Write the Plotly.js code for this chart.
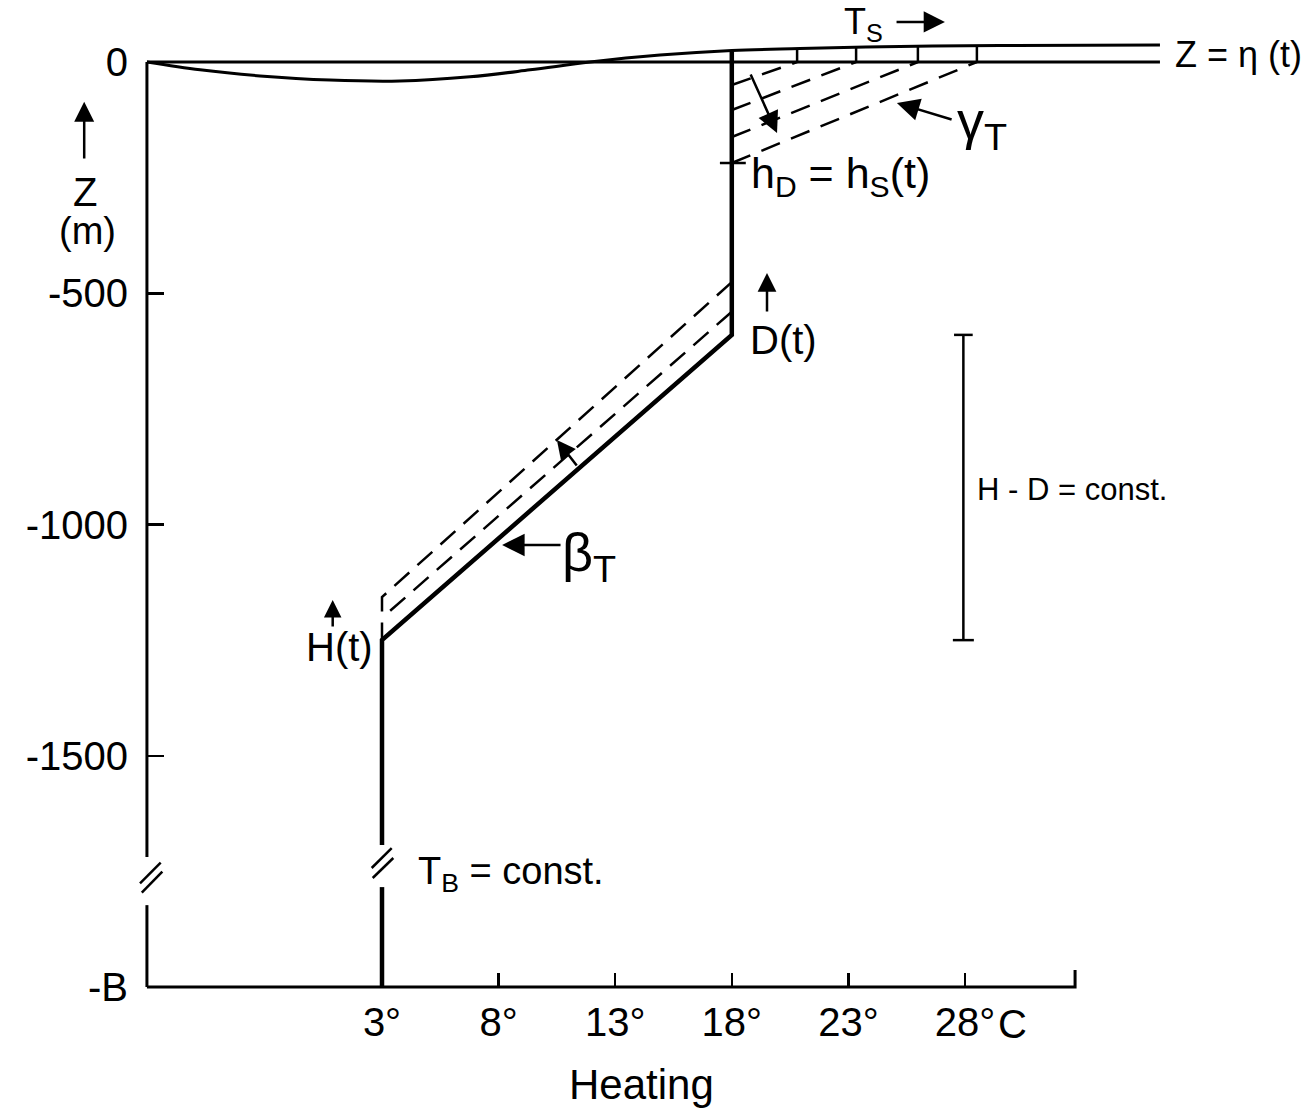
<!DOCTYPE html>
<html><head><meta charset="utf-8">
<script src="https://cdn.plot.ly/plotly-3.0.1.min.js"></script>
<style>body{margin:0;background:#fff}#chart{width:1302px;height:1110px}</style>
</head><body><div id="chart"></div>
<script>
// ---------------- data ----------------
const xTickVals = [3, 8, 13, 18, 23, 28];
const xTickText = ['3°', '8°', '13°', '18°', '23°', '28°'];
const yTickVals = [0, -500, -1000, -1500, -2000];
const yTickText = ['0', '-500', '-1000', '-1500', '-B'];

const T_LEFT = -7.08;        // temperature at the depth axis
const T_AXIS_END = 32.72;    // end of temperature axis
const T_SEA_END = 36.36;     // right end of sea-surface lines
const Z_BOTTOM = -2000;      // -B

// free surface eta(t)
const etaT = [-7.08, -4.80, -2.23, 0.77, 3.77, 6.77, 9.35, 11.92, 14.92, 18.0, 20.92, 25.21, 29.50, 36.36];
const etaZ = [0, -17, -30, -39, -41, -32, -17, 0, 15, 25, 29, 33.5, 35.7, 36.8];

// surface temperature marks T_S
const tsT = [20.80, 23.33, 25.98, 28.51];
const tsEta = [29.2, 32.0, 34.4, 35.5];

// profile
const T_D = 18, T_H = 3;
const Z_ETA_D = 25;
const Z_D = -590, Z_H = -1250;
const profBreak = [-1693, -1784];
const axisBreak = [-1719, -1823];

// gamma_T isolines (from T_D at depth to surface at tsT)
const gammaZ = [-49.7, -103.8, -162.2, -218.4];
const Z_hD = -218.4;

// beta_T shifted thermocline lines
const betaInnerT = [18, 3];
const betaInnerZ = [-540, -1202];
const betaOuterT = [18, 3, 3];
const betaOuterZ = [-476, -1157, -1250];

// axis-break marks  [T0, z0, T1, z1]
const breakMarks = [
  [2.558, -1742.7, 3.416, -1699.5],
  [2.601, -1764.3, 3.485, -1721.1],
  [-7.377, -1775.8, -6.49, -1731.2],
  [-7.30, -1796.1, -6.42, -1750.7]
];

// H - D bar
const T_BAR = 27.93;

// arrows [headT, headZ, tailT, tailZ, headScale]
const arrows = [
  [27.14, 86.5, 25.0, 86.5, 1.7],        // T_S ->
  [25.08, -88.6, 27.49, -125.4, 1.8],    // gamma_T
  [19.94, -153.5, 18.78, -23.8, 1.7],    // surface deepening
  [19.51, -456.2, 19.51, -542.7, 1.5],   // D(t)
  [0.886, -1163.2, 0.886, -1223.8, 1.4], // H(t)
  [8.15, -1044.3, 10.72, -1044.3, 1.8],  // beta_T
  [10.50, -817.3, 11.40, -875.7, 1.5],   // thermocline shift
  [-9.77, -85.8, -9.77, -211.9, 1.6]     // Z up
];

// ---------------- helpers ----------------
const PX = x => 3 + (x - 382) / 23.32;
const PZ = y => (62 - y) / 0.4625;
const FONT = 'Liberation Sans, Arial, sans-serif';
const K = '#000';

function seg(list) { // list of [T0,z0,T1,z1] -> x,y with gaps
  const x = [], y = [];
  list.forEach(s => { x.push(s[0], s[2], null); y.push(s[1], s[3], null); });
  return [x, y];
}
function line(x, y, w, dash, shape) {
  return {type: 'scatter', mode: 'lines', x, y, hoverinfo: 'skip', showlegend: false,
          line: {color: K, width: w, dash: dash || 'solid', shape: shape || 'linear'}};
}

const traces = [];
// depth axis with break
traces.push(line([T_LEFT, T_LEFT, null, T_LEFT, T_LEFT], [0, axisBreak[0], null, axisBreak[1], Z_BOTTOM], 3));
// temperature axis
traces.push(line([T_LEFT, T_AXIS_END, T_AXIS_END], [Z_BOTTOM, Z_BOTTOM, Z_BOTTOM + 37], 3));
// mean sea level
traces.push(line([T_LEFT, T_SEA_END], [0, 0], 3));
// free surface
traces.push(line(etaT, etaZ, 3, 'solid', 'spline'));
// T_S ticks
traces.push(line(...seg(tsT.map((t, i) => [t, 0, t, tsEta[i]])), 2.5));
// profile
traces.push(line([T_D, T_D, T_H, T_H, null, T_H, T_H],
                 [Z_ETA_D, Z_D, Z_H, profBreak[0], null, profBreak[1], Z_BOTTOM], 4.5));
// gamma isolines
traces.push(line(...seg(tsT.map((t, i) => [T_D, gammaZ[i], t, 0])), 2.5, '20px,12px'));
// h_D mark
traces.push(line([17.49, 18.6], [Z_hD, Z_hD], 2.5));
// beta lines
traces.push(line(betaInnerT, betaInnerZ, 2.5, '20px,11px'));
traces.push(line(betaOuterT, betaOuterZ, 2.5, '20px,11px'));
// break marks
traces.push(line(...seg(breakMarks), 2.5));
// H - D bar
traces.push(line([T_BAR, T_BAR, null, T_BAR - 0.4, T_BAR + 0.4, null, T_BAR - 0.45, T_BAR + 0.45],
                 [Z_D, Z_H, null, Z_D, Z_D, null, Z_H, Z_H], 2.5));

// ---------------- annotations ----------------
function txt(text, px, py, size, anchor, fam) {
  return {text, x: PX(px), y: PZ(py), xref: 'x', yref: 'y', showarrow: false,
          xanchor: anchor || 'left', yanchor: 'middle',
          font: {family: fam || FONT, size, color: K}};
}
const ann = [
  txt('Z', 85, 192, 40, 'center'),
  txt('(m)', 87, 231, 38, 'center'),
  txt('T<sub>S</sub>', 842, 24, 36),
  txt('Z = η (t)', 1173, 54, 36),
  txt('h<sub>D</sub> = h<sub>S</sub>(t)', 749, 176, 43),
  txt('D(t)', 748, 340, 40),
  txt('H(t)', 304, 647, 40),
  txt('H - D = const.', 975, 489, 31),
  txt('β<sub>T</sub>', 560, 556, 54),
  txt('γ<sub>T</sub>', 955, 124, 54),
  txt('T<sub>B</sub> = const.', 416, 874, 38),
  txt('Heating', 641, 1084, 42, 'center'),
  txt('C', 996, 1024, 40)
];
arrows.forEach(a => ann.push({
  x: a[0], y: a[1], ax: a[2], ay: a[3], xref: 'x', yref: 'y', axref: 'x', ayref: 'y',
  text: '', showarrow: true, arrowhead: 2, arrowsize: a[4], arrowwidth: 2.5, arrowcolor: K, standoff: 0
}));

const layout = {
  width: 1302, height: 1110,
  margin: {l: 0, r: 0, t: 0, b: 0},
  paper_bgcolor: '#fff', plot_bgcolor: '#fff',
  showlegend: false,
  xaxis: {range: [PX(0), PX(1302)], anchor: 'free', position: 123 / 1110,
          showgrid: false, zeroline: false, showline: false, fixedrange: true,
          tickmode: 'array', tickvals: xTickVals, ticktext: xTickText,
          ticks: 'inside', ticklen: 14, tickwidth: 2.5, tickcolor: K,
          ticklabelstandoff: 8,
          tickfont: {family: FONT, size: 40, color: K}},
  yaxis: {range: [PZ(1110), PZ(0)], anchor: 'free', position: 147 / 1302,
          showgrid: false, zeroline: false, showline: false, fixedrange: true,
          tickmode: 'array', tickvals: yTickVals, ticktext: yTickText,
          ticks: 'inside', ticklen: 16, tickwidth: 2.5, tickcolor: K,
          ticklabelstandoff: 19,
          tickfont: {family: FONT, size: 40, color: K}},
  annotations: ann
};

Plotly.newPlot('chart', traces, layout, {staticPlot: true, displayModeBar: false});
</script>
</body></html>
